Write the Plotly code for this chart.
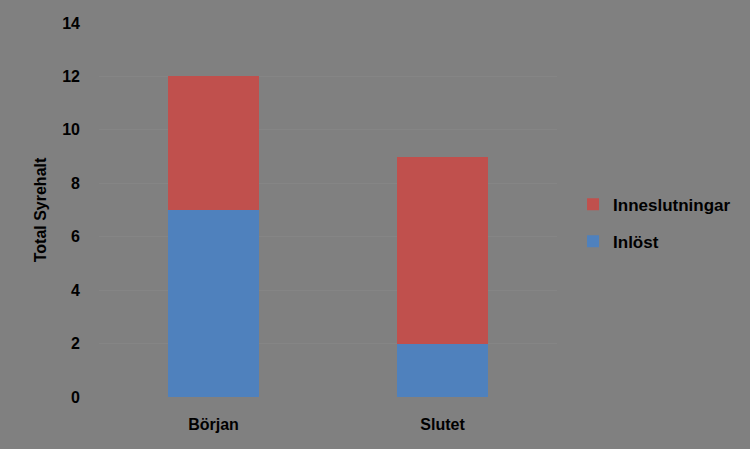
import plotly.graph_objects as go

categories = ["Början", "Slutet"]
inlost = [7, 2]
inneslutningar = [5, 7]
y_ticks = [0, 2, 4, 6, 8, 10, 12, 14]

bg = "#808080"
font_family = "Liberation Sans, Arial, sans-serif"

fig = go.Figure()
fig.add_trace(go.Bar(x=categories, y=inlost, name="Inlöst", legendrank=2,
                     legendgroup="inlost",
                     marker=dict(color="#4F81BD", line=dict(width=0))))
fig.add_trace(go.Bar(x=categories, y=inneslutningar, name="Inneslutningar", legendrank=1,
                     legendgroup="innes",
                     marker=dict(color="#C0504D", line=dict(width=0))))

fig.update_layout(
    barmode="stack",
    bargap=0.6,
    width=750, height=449,
    paper_bgcolor=bg, plot_bgcolor=bg,
    margin=dict(l=99, r=193, t=23, b=52),
    font=dict(family=font_family, size=15, color="#000000", weight="bold"),
    showlegend=True,
    legend=dict(x=1.035, y=0.465, xanchor="left", yanchor="middle",
                traceorder="grouped", bgcolor="rgba(0,0,0,0)",
                font=dict(size=17, color="#000000", family=font_family, weight="bold"),
                itemwidth=30, tracegroupgap=12),
    xaxis=dict(showgrid=False, showline=False, zeroline=False, ticks="",
               ticklabelstandoff=16,
               tickfont=dict(size=16, color="#000000", family=font_family, weight="bold")),
    yaxis=dict(range=[0, 14], tickvals=y_ticks, showgrid=True,
               gridcolor="#858585", gridwidth=1, zeroline=False, showline=False,
               ticks="", ticklabelstandoff=18,
               tickfont=dict(size=16, color="#000000", family=font_family, weight="bold"),
               title=dict(text="Total Syrehalt", standoff=11,
                          font=dict(size=16, color="#000000", family=font_family, weight="bold"))),
)

fig.write_html("out.html", config={"displayModeBar": False},
               post_script="document.body.style.margin='0';")
